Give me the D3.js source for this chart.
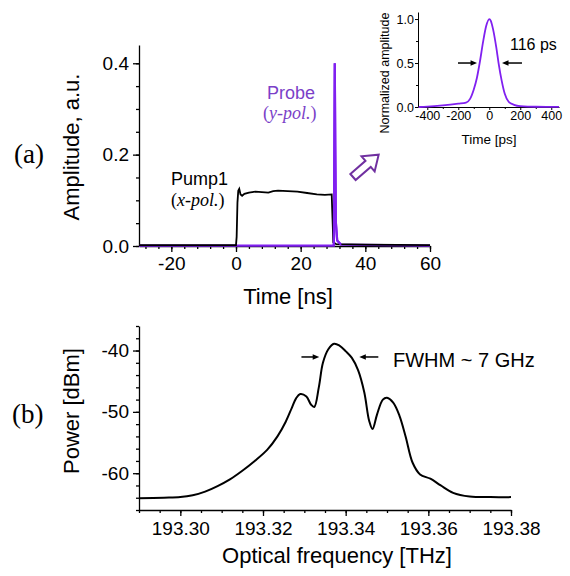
<!DOCTYPE html>
<html lang="en">
<head>
  <meta charset="UTF-8">
  <title>Pump / probe and spectrum</title>
  <script src="https://d3js.org/d3.v7.min.js"></script>
  <style>
    body { margin: 0; background: #fff; }
    svg { display: block; font-family: "Liberation Sans", Arial, sans-serif; }
    .axis path, .axis line { stroke: #000; stroke-width: 1.3px; }
    .axis text { fill: #000; font-family: "Liberation Sans", Arial, sans-serif; }
    .serif { font-family: "Liberation Serif", "Times New Roman", serif; }
  </style>
</head>
<body>
  <svg width="570" height="576"></svg>
  <script>
    const svg = d3.select("svg");
    const PURPLE = "#8020f0";

    // ---- data ----
    // panel (a): pump pulse, ns vs a.u.
    const pumpTrace = [
      [-30, 0.002], [0, 0.002], [0.2, 0.02], [0.45, 0.095], [0.7, 0.121], [1.0, 0.125],
      [1.4, 0.113], [1.9, 0.110], [2.6, 0.114], [4, 0.117], [6, 0.119], [8, 0.118],
      [10, 0.117], [11.5, 0.120], [13, 0.121], [16, 0.120], [19, 0.119], [22, 0.116],
      [25, 0.113], [27.5, 0.112], [29.6, 0.113], [29.85, 0.06], [30.1, 0.008],
      [31, 0.004], [40, 0.003], [60, 0.002]
    ];
    // panel (a): probe pulse
    const probeTrace = [
      [-30, 0.001], [30.25, 0.001], [30.4, 0.2], [30.55, 0.4], [30.7, 0.22],
      [30.9, 0.05], [31.3, 0.012], [32.5, 0.003], [60, 0.001]
    ];
    // inset: probe pulse, ps vs normalized amplitude
    const insetTrace = [
      [-455, 0.0], [-400, 0.004], [-300, 0.018], [-200, 0.038], [-150, 0.05],
      [-125, 0.09], [-100, 0.2], [-80, 0.33], [-60, 0.52], [-40, 0.74], [-20, 0.92],
      [0, 1.0], [10, 0.98], [25, 0.88], [45, 0.68], [60, 0.5], [80, 0.3], [100, 0.15],
      [125, 0.06], [160, 0.025], [200, 0.01], [300, 0.003], [450, 0.002]
    ];
    // panel (b): optical spectrum, THz vs dBm
    const spectrum = [
      [193.290, -64.1], [193.296, -64.0], [193.300, -63.9], [193.303, -63.6],
      [193.306, -63.0], [193.309, -62.1], [193.312, -61.0], [193.315, -59.6],
      [193.318, -58.0], [193.321, -56.2], [193.3235, -54.0], [193.3255, -51.6],
      [193.327, -49.3], [193.328, -47.8], [193.329, -47.1], [193.3305, -47.5],
      [193.3316, -48.8], [193.3324, -49.2], [193.3335, -46.0], [193.3345, -42.0],
      [193.3358, -39.8], [193.3372, -38.9], [193.3385, -39.2], [193.340, -40.1],
      [193.3415, -41.2], [193.343, -43.2], [193.3445, -46.8], [193.3457, -51.5],
      [193.3465, -52.8], [193.3476, -50.4], [193.349, -48.0], [193.350, -47.7],
      [193.3515, -48.5], [193.353, -50.6], [193.3545, -54.0], [193.3562, -58.3],
      [193.358, -60.2], [193.3605, -60.9], [193.363, -62.0], [193.366, -63.2],
      [193.370, -63.8], [193.375, -63.9], [193.380, -63.9]
    ];

    const aTicksX = [-20, 0, 20, 40, 60];
    const aTicksY = [0.0, 0.2, 0.4];
    const insetTicksX = [-400, -200, 0, 200, 400];
    const insetTicksY = [0.0, 0.5, 1.0];
    const bTicksX = [193.30, 193.32, 193.34, 193.36, 193.38];
    const bTicksY = [-40, -50, -60];

    // plain hyphen instead of the unicode minus d3 uses
    const fmt = spec => { const f = d3.format(spec); return d => f(d).replace("\u2212", "-"); };

    // ---- helpers ----
    function drawAxis(axis, minor, tx, ty) {
      const sel = svg.append("g").attr("class", "axis").attr("transform", `translate(${tx},${ty})`);
      sel.call(minor);
      sel.selectAll("text").remove();
      sel.select(".domain").remove();
      const major = svg.append("g").attr("class", "axis").attr("transform", `translate(${tx},${ty})`);
      major.call(axis);
      return major;
    }

    function arrowHead(x, y, dir, size) {
      // filled triangle, tip at (x, y), dir = +1 points right, -1 points left
      svg.append("path")
        .attr("d", `M${x},${y} L${x - dir * size * 1.3},${y - size * 0.55} L${x - dir * size * 1.3},${y + size * 0.55} Z`)
        .attr("fill", "#000");
    }

    function arrowPair(x, y, fromL, toL, fromR, toR, size) {
      svg.append("line").attr("x1", x(fromL)).attr("x2", x(toL) - 4).attr("y1", y).attr("y2", y)
        .attr("stroke", "#000").attr("stroke-width", 1.5);
      arrowHead(x(toL), y, 1, size);
      svg.append("line").attr("x1", x(fromR)).attr("x2", x(toR) + 4).attr("y1", y).attr("y2", y)
        .attr("stroke", "#000").attr("stroke-width", 1.5);
      arrowHead(x(toR), y, -1, size);
    }

    // ---- panel (a) ----
    const xa = d3.scaleLinear().domain([-30, 60]).range([139, 430]);
    const ya = d3.scaleLinear().domain([0, 0.44]).range([246, 45]);

    drawAxis(
      d3.axisBottom(xa).tickValues(aTicksX).tickFormat(fmt("d")).tickSize(6).tickSizeOuter(0).tickPadding(5),
      d3.axisBottom(xa).tickValues(d3.range(-28, 61, 4)).tickSize(3),
      0, 246).selectAll("text").style("font-size", "19px");
    drawAxis(
      d3.axisLeft(ya).tickValues(aTicksY).tickFormat(fmt(".1f")).tickSize(6).tickSizeOuter(0).tickPadding(4),
      d3.axisLeft(ya).tickValues(d3.range(0, 0.441, 0.05)).tickSize(3),
      139, 0).selectAll("text").style("font-size", "19px");

    const lineA = d3.line().x(d => xa(d[0])).y(d => ya(d[1]));
    svg.append("path").datum(probeTrace).attr("d", lineA)
      .attr("fill", "none").attr("stroke", PURPLE).attr("stroke-width", 2.2);
    svg.append("path").datum(pumpTrace).attr("d", lineA)
      .attr("fill", "none").attr("stroke", "#000").attr("stroke-width", 1.8);
    // probe spike drawn on top again so it stays purple
    svg.append("path").datum(probeTrace.slice(1, 8)).attr("d", lineA)
      .attr("fill", "none").attr("stroke", PURPLE).attr("stroke-width", 2.2);

    svg.append("text").attr("x", 71).attr("y", 147).attr("transform", "rotate(-90,71,147)")
      .attr("dy", "0.35em").attr("text-anchor", "middle").style("font-size", "22px").text("Amplitude, a.u.");
    svg.append("text").attr("x", 288).attr("y", 304).attr("text-anchor", "middle")
      .style("font-size", "22px").text("Time [ns]");
    svg.append("text").attr("class", "serif").attr("x", 14).attr("y", 163).style("font-size", "27px").text("(a)");

    svg.append("text").attr("x", 171).attr("y", 185).style("font-size", "18px").text("Pump1");
    svg.append("text").attr("class", "serif").attr("x", 171).attr("y", 206).style("font-size", "18px")
      .html('(<tspan font-style="italic">x-pol.</tspan>)');
    svg.append("text").attr("x", 267).attr("y", 99).attr("fill", "#7b3fc8").style("font-size", "18px").text("Probe");
    svg.append("text").attr("class", "serif").attr("x", 263).attr("y", 119).attr("fill", "#7b3fc8").style("font-size", "18px")
      .html('(<tspan font-style="italic">y-pol.</tspan>)');

    // hollow arrow pointing to inset
    svg.append("path")
      .attr("d", "M0,-4 L20,-4 L20,-10 L34,0 L20,10 L20,4 L0,4 Z")
      .attr("transform", "translate(353,177) rotate(-41)")
      .attr("fill", "#fff").attr("stroke", "#7030a0").attr("stroke-width", 2).attr("stroke-linejoin", "miter");

    // ---- inset ----
    const xi = d3.scaleLinear().domain([-460, 450]).range([418, 559]);
    const yi = d3.scaleLinear().domain([0, 1.08]).range([107, 12]);

    drawAxis(
      d3.axisBottom(xi).tickValues(insetTicksX).tickFormat(fmt("d")).tickSize(3).tickSizeOuter(0).tickPadding(1),
      d3.axisBottom(xi).tickValues([-300, -100, 100, 300]).tickSize(2),
      0, 107).selectAll("text").style("font-size", "12.5px");
    drawAxis(
      d3.axisLeft(yi).tickValues(insetTicksY).tickFormat(fmt(".1f")).tickSize(3).tickSizeOuter(0).tickPadding(1),
      d3.axisLeft(yi).tickValues([0.25, 0.75]).tickSize(2),
      418, 0).selectAll("text").style("font-size", "12.5px");
    svg.selectAll(".axis").filter((d, i) => i >= 4).selectAll("path, line").style("stroke-width", "1px");

    svg.append("path").datum(insetTrace)
      .attr("d", d3.line().curve(d3.curveMonotoneX).x(d => xi(d[0])).y(d => yi(d[1])))
      .attr("fill", "none").attr("stroke", PURPLE).attr("stroke-width", 1.8);

    svg.append("text").attr("x", 385).attr("y", 73).attr("transform", "rotate(-90,385,73)")
      .attr("dy", "0.35em").attr("text-anchor", "middle").style("font-size", "12.5px").text("Normalized amplitude");
    svg.append("text").attr("x", 489).attr("y", 144).attr("text-anchor", "middle")
      .style("font-size", "13.5px").text("Time [ps]");
    svg.append("text").attr("x", 510).attr("y", 50).style("font-size", "16px").text("116 ps");
    arrowPair(xi, yi(0.5), -202, -79, 211, 82, 5);

    // ---- panel (b) ----
    const xb = d3.scaleLinear().domain([193.29, 193.38]).range([139, 511]);
    const yb = d3.scaleLinear().domain([-66, -36]).range([510, 326]);

    drawAxis(
      d3.axisBottom(xb).tickValues(bTicksX).tickFormat(fmt(".2f")).tickSize(6).tickSizeOuter(0).tickPadding(6),
      d3.axisBottom(xb).tickValues(d3.range(0, 19).map(i => 193.29 + i * 0.005)).tickSize(3),
      0, 510).selectAll("text").style("font-size", "19px");
    drawAxis(
      d3.axisLeft(yb).tickValues(bTicksY).tickFormat(fmt("d")).tickSize(6).tickSizeOuter(0).tickPadding(4),
      d3.axisLeft(yb).tickValues(d3.range(-66, -35, 2)).tickSize(3),
      139, 0).selectAll("text").style("font-size", "19px");

    svg.append("path").datum(spectrum)
      .attr("d", d3.line().curve(d3.curveCatmullRom).x(d => xb(d[0])).y(d => yb(d[1])))
      .attr("fill", "none").attr("stroke", "#000").attr("stroke-width", 2);

    arrowPair(xb, yb(-41.05), 193.3293, 193.3336, 193.3479, 193.3433, 5);
    svg.append("text").attr("x", 393).attr("y", 367).style("font-size", "20px").text("FWHM ~ 7 GHz");

    svg.append("text").attr("x", 71).attr("y", 411).attr("transform", "rotate(-90,71,411)")
      .attr("dy", "0.35em").attr("text-anchor", "middle").style("font-size", "22px").text("Power [dBm]");
    svg.append("text").attr("x", 337).attr("y", 563).attr("text-anchor", "middle")
      .style("font-size", "22px").text("Optical frequency [THz]");
    svg.append("text").attr("class", "serif").attr("x", 12).attr("y", 423).style("font-size", "27px").text("(b)");
  </script>
</body>
</html>
